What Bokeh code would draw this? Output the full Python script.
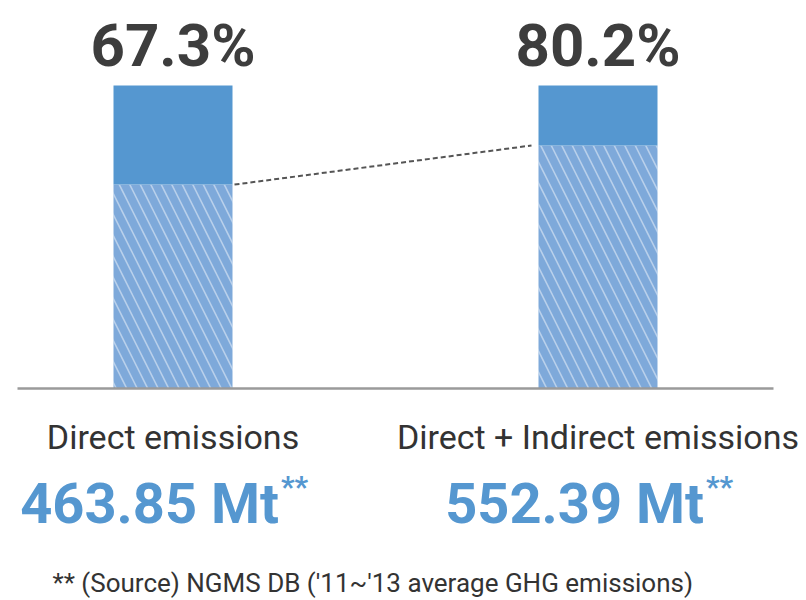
from bokeh.plotting import figure
from bokeh.models import ColumnDataSource, Range1d, Label
from bokeh.core.properties import value
from bokeh.embed import file_html
from bokeh.resources import INLINE

# ---- data ----
categories = ["Direct emissions", "Direct + Indirect emissions"]
share_pct = [67.3, 80.2]
share_labels = ["67.3%", "80.2%"]
emission_labels = ["463.85 Mt", "552.39 Mt"]
footnote = "** (Source) NGMS DB ('11~'13 average GHG emissions)"
total_pct = [100, 100]

W, H = 806, 600
BASE = 388          # baseline pixel row
PX = 3.03           # pixels per percentage point
STEP = 425          # pixels between bar centres
X0 = 172.5          # first bar centre pixel
FONT = "Roboto"
BLUE = "#5597d0"
HATCH_FILL = "#7ea9da"

xs = list(range(len(categories)))
p = figure(width=W, height=H, output_backend="svg", toolbar_location=None,
           x_range=Range1d(-X0 / STEP, (W - X0) / STEP),
           y_range=Range1d(-(H - BASE) / PX, BASE / PX),
           min_border=0)
p.axis.visible = False
p.grid.visible = False
p.outline_line_color = None
p.background_fill_color = "white"

bw = 119 / STEP
src = ColumnDataSource(dict(
    x=xs, pct=share_pct, total=total_pct, lab=share_labels,
    cat=categories, val=emission_labels, star=["**"] * len(xs),
    lab_y=[t + 40 / PX for t in total_pct],
    cat_y=[-(436 - BASE) / PX] * len(xs),
    val_x=[x + 106 / STEP for x in xs],
    val_y=[-(503 - BASE) / PX] * len(xs),
    star_x=[x + 108 / STEP for x in xs],
    star_y=[-(486 - BASE) / PX] * len(xs),
))

# hatched lower part (share)
p.vbar(x="x", bottom=0, top="pct", width=bw, source=src, fill_color=HATCH_FILL,
       line_color=None, hatch_pattern="\\", hatch_color="white", hatch_alpha=0.45,
       hatch_weight=1.6, hatch_scale=21)
# solid upper part
p.vbar(x="x", bottom="pct", top="total", width=bw, source=src, fill_color=BLUE,
       line_color=None)

# baseline
p.segment(x0=[(17 - X0) / STEP], x1=[(773 - X0) / STEP], y0=[0], y1=[0],
          line_color="#9a9a9a", line_width=2.5)

# dashed connector between shares
p.segment(x0=[xs[0] + bw / 2 + 2 / STEP], y0=[share_pct[0]],
          x1=[xs[1] - bw / 2 - 7 / STEP], y1=[share_pct[1]],
          line_color="#555555", line_width=2, line_dash="5 3")

# percentage labels above bars
p.text(x="x", y="lab_y", text="lab", source=src,
       text_font=value(FONT), text_font_style="bold", text_font_size="60px",
       text_color="#3d3d3d", text_align="center", text_baseline="alphabetic")

# category labels
p.text(x="x", y="cat_y", text="cat", source=src,
       text_font=value(FONT), text_font_size="34px",
       text_color="#333333", text_align="center", text_baseline="alphabetic")

# emission values
p.text(x="val_x", y="val_y", text="val", source=src,
       text_font=value(FONT), text_font_style="bold", text_font_size="56px",
       text_color=BLUE, text_align="right", text_baseline="alphabetic")
p.text(x="star_x", y="star_y", text="star", source=src,
       text_font=value(FONT), text_font_style="bold", text_font_size="30px",
       text_color=BLUE, text_align="left", text_baseline="alphabetic")

# footnote
p.add_layout(Label(x=52, y=H - 582, x_units="screen", y_units="screen", text=footnote,
                   text_font=FONT, text_font_size="26px", text_color="#333333",
                   text_baseline="alphabetic"))

open("out.html", "w").write(file_html(p, INLINE))
